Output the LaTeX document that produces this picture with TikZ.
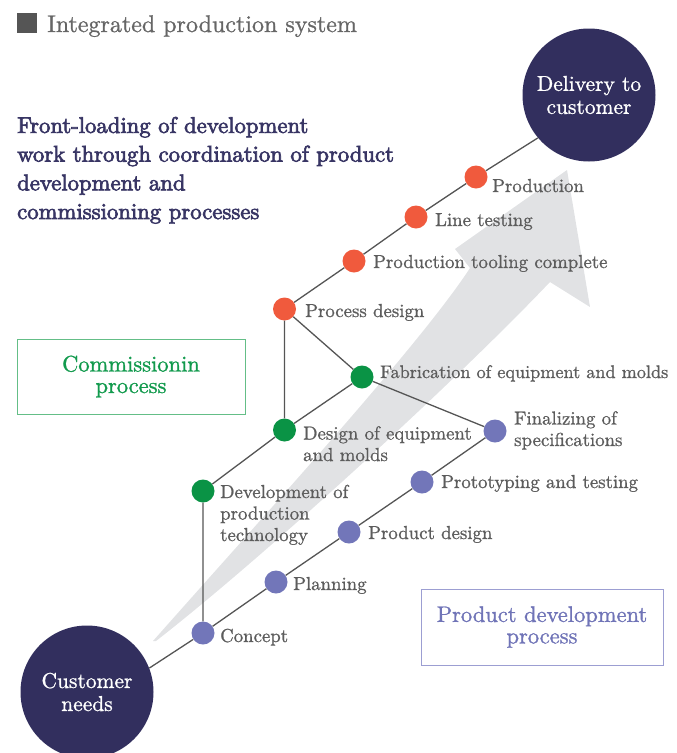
\documentclass[tikz,border=0pt]{standalone}
\usepackage{fontspec}
\setmainfont{lmroman10-regular}[Extension=.otf, BoldFont=lmroman10-bold]
\definecolor{navy}{RGB}{50,47,94}
\definecolor{headnavy}{RGB}{56,53,100}
\definecolor{lblgray}{RGB}{92,92,92}
\definecolor{linegray}{RGB}{85,85,85}
\definecolor{reddot}{RGB}{240,90,61}
\definecolor{greendot}{RGB}{10,147,69}
\definecolor{bluedot}{RGB}{114,118,185}
\definecolor{arrowgray}{RGB}{225,226,228}
\definecolor{greenbox}{RGB}{100,190,135}
\definecolor{greentext}{RGB}{18,154,77}
\definecolor{bluebox}{RGB}{156,158,210}
\definecolor{bluetext}{RGB}{112,116,183}
\definecolor{titlegray}{RGB}{102,102,102}
\begin{document}
\begin{tikzpicture}[x=1pt,y=-1pt,
  lbl/.style={anchor=base west, text=lblgray, inner sep=0pt, align=left,
    font={\fontsize{18.8}{21.5}\selectfont\addfontfeatures{FakeBold=1}}},
  dot/.style={circle, minimum size=23pt, inner sep=0pt},
  rdot/.style={dot, fill=reddot},
  gdot/.style={dot, fill=greendot},
  bdot/.style={dot, fill=bluedot},
  bigc/.style={circle, fill=navy, minimum size=133pt, inner sep=0pt, text=white, align=center,
    font={\fontsize{21.5}{23}\selectfont\addfontfeatures{FakeBold=1}}},
  conn/.style={draw=linegray, line width=1.3pt},
  procbox/.style={line width=1pt, inner sep=0pt, align=center,
    font={\fontsize{22.5}{21.5}\selectfont\addfontfeatures{FakeBold=1.2}}}
]
\path[use as bounding box] (0,0) rectangle (677,753);

% big gray arrow
\fill[arrowgray] (153,641) .. controls (260,520) and (420,345) .. (470,268)
  -- (455,249) -- (567,170) -- (590,307) -- (550,282)
  .. controls (450,387) and (260,560) .. (156,641) -- cycle;

% title
\fill[linegray] (17,13) rectangle (37,33);
\node[anchor=base west, inner sep=0pt, text=titlegray,
  font={\fontsize{24}{26}\selectfont\addfontfeatures{FakeBold=1}}] (title) at (47,32) {Integrated production system};

% heading
\node[anchor=base west, inner sep=0pt, align=left, text=headnavy,
  font={\fontsize{22.7}{28.7}\selectfont\addfontfeatures{FakeBold=3}}] (head) at (17,219)
  {Front-loading of development\\work through coordination of product\\development and\\commissioning processes};

% big circles
\node[bigc] (deliv) at (589,95) {Delivery to\\customer};
\node[bigc] (cust) at (87,692) {Customer\\needs};

% dots
\node[rdot] (prod) at (476,177) {};
\node[rdot] (line) at (416,217) {};
\node[rdot] (tool) at (354,261) {};
\node[rdot] (pdes) at (284.5,309) {};
\node[gdot] (fab) at (362,377) {};
\node[gdot] (deq) at (284.5,430) {};
\node[gdot] (dev) at (203,491) {};
\node[bdot] (fin) at (495,431) {};
\node[bdot] (proto) at (422,482) {};
\node[bdot] (prd) at (349,532) {};
\node[bdot] (plan) at (276,582) {};
\node[bdot] (conc) at (203,633) {};

% connectors
\draw[conn] (cust.21) -- (conc) -- (plan) -- (prd) -- (proto) -- (fin);
\draw[conn] (conc) -- (dev) -- (deq) -- (fab) -- (fin);
\draw[conn] (fab) -- (pdes);
\draw[conn] (deq) -- (pdes) -- (tool) -- (line) -- (prod) -- (deliv.220);

% labels
\node[lbl] (lprod) at (492,192) {Production};
\node[lbl] (lline) at (435,226) {Line testing};
\node[lbl] (ltool) at (373,268) {Production tooling complete};
\node[lbl] (lpdes) at (305,317) {Process design};
\node[lbl, font={\fontsize{18.2}{21.5}\selectfont\addfontfeatures{FakeBold=1}}] (lfab) at (380,378) {Fabrication of equipment and molds};
\node[lbl] (ldeq) at (303,461) {Design of equipment\\and molds};
\node[lbl] (lfin) at (514,446) {Finalizing of\\specifications};
\node[lbl] (lproto) at (441,488) {Prototyping and testing};
\node[lbl] (lprd) at (368,539) {Product design};
\node[lbl] (ldev) at (220,541) {Development of\\production\\technology};
\node[lbl] (lplan) at (293,590) {Planning};
\node[lbl] (lconc) at (220,642) {Concept};

% process boxes
\node[procbox, draw=greenbox, text=greentext, minimum width=228pt, minimum height=75pt] (cbox) at (131,376.5) {Commissionin\\process};
\node[procbox, draw=bluebox, text=bluetext, minimum width=242pt, minimum height=76pt] (pbox) at (542,627) {Product development\\process};
\end{tikzpicture}
\end{document}
